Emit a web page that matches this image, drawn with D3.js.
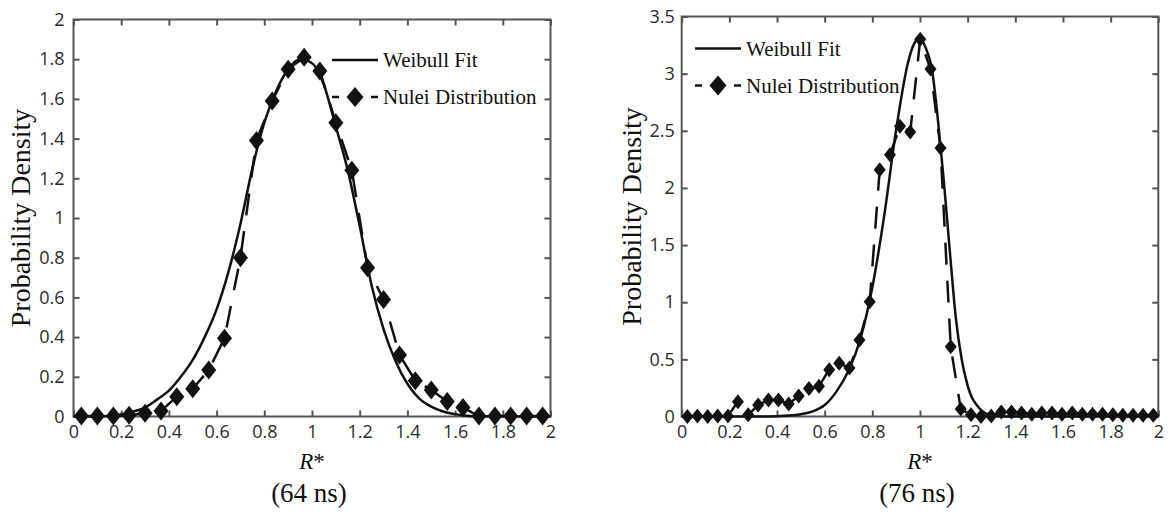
<!DOCTYPE html>
<html>
<head>
<meta charset="utf-8">
<script src="https://cdn.jsdelivr.net/npm/d3@7"></script>
<style>
  body { margin: 0; background: #fff; }
  .tick text { font-family: "Open Sans", sans-serif; font-size: 18px; fill: #2b2b2b; }
  .tick line { stroke: #555; stroke-width: 2; }
  .serif { font-family: "Liberation Serif", "Times New Roman", serif; fill: #111; }
</style>
</head>
<body>
<svg id="chart" width="1169" height="519"></svg>
<script>
// shared x ticks (R*)
const xTicks = [0, 0.2, 0.4, 0.6, 0.8, 1, 1.2, 1.4, 1.6, 1.8, 2];

// 64 ns panel
const yTicks64 = [0, 0.2, 0.4, 0.6, 0.8, 1, 1.2, 1.4, 1.6, 1.8, 2];
const nuc64X = [0.033, 0.1, 0.167, 0.233, 0.3, 0.367, 0.433, 0.5, 0.567, 0.633,
                0.7, 0.767, 0.833, 0.9, 0.967, 1.033, 1.1, 1.167, 1.233, 1.3,
                1.367, 1.433, 1.5, 1.567, 1.633, 1.7, 1.767, 1.833, 1.9, 1.967];
const nuc64Y = [0.003, 0.003, 0.003, 0.006, 0.016, 0.028, 0.10, 0.14, 0.234, 0.394,
                0.80, 1.39, 1.59, 1.75, 1.81, 1.74, 1.48, 1.24, 0.75, 0.59,
                0.31, 0.18, 0.134, 0.075, 0.045, 0.002, 0.002, 0.002, 0.002, 0.002];
const fit64X = [0, 0.1, 0.2, 0.25, 0.3, 0.35, 0.4, 0.45, 0.5, 0.55, 0.6, 0.65, 0.7, 0.75,
                0.8, 0.85, 0.9, 0.95, 1.0, 1.05, 1.1, 1.15, 1.2, 1.25, 1.3, 1.35, 1.4,
                1.45, 1.5, 1.55, 1.6, 1.65, 1.7, 1.8, 2.0];
const fit64Y = [0, 0, 0.01, 0.025, 0.045, 0.085, 0.13, 0.2, 0.285, 0.4, 0.54, 0.73, 0.97, 1.25,
                1.48, 1.64, 1.75, 1.80, 1.78, 1.67, 1.46, 1.24, 0.96, 0.66, 0.44, 0.28, 0.165,
                0.09, 0.05, 0.025, 0.012, 0.004, 0.001, 0, 0];

// 76 ns panel
const yTicks76 = [0, 0.5, 1, 1.5, 2, 2.5, 3, 3.5];
const nuc76X = [0.024, 0.066, 0.109, 0.151, 0.194, 0.236, 0.279, 0.321, 0.364, 0.406,
                0.449, 0.491, 0.534, 0.576, 0.619, 0.661, 0.704, 0.746, 0.789, 0.831,
                0.874, 0.916, 0.959, 1.001, 1.044, 1.086, 1.129, 1.171, 1.214, 1.256,
                1.299, 1.341, 1.384, 1.426, 1.469, 1.511, 1.554, 1.596, 1.639, 1.681,
                1.724, 1.766, 1.809, 1.851, 1.894, 1.936, 1.979];
const nuc76Y = [0, 0.005, 0, 0.005, 0.005, 0.13, 0.015, 0.10, 0.145, 0.145,
                0.11, 0.18, 0.245, 0.265, 0.41, 0.465, 0.425, 0.67, 1.005, 2.16,
                2.29, 2.54, 2.49, 3.30, 3.04, 2.35, 0.61, 0.065, 0.015, 0,
                0.005, 0.04, 0.04, 0.03, 0.02, 0.03, 0.03, 0.02, 0.03, 0.02,
                0.02, 0.02, 0.015, 0.01, 0.01, 0.01, 0.01];
const fit76X = [0, 0.3, 0.4, 0.45, 0.5, 0.55, 0.6, 0.65, 0.7, 0.75, 0.8, 0.85, 0.9, 0.95,
                0.975, 1.0, 1.025, 1.05, 1.075, 1.1, 1.125, 1.15, 1.175, 1.2, 1.25, 1.3, 1.35, 2.0];
const fit76Y = [0, 0, 0.003, 0.008, 0.02, 0.045, 0.1, 0.22, 0.4, 0.68, 1.13, 1.76, 2.51, 3.10,
                3.26, 3.31, 3.22, 3.04, 2.6, 2.06, 1.45, 0.87, 0.5, 0.27, 0.07, 0.01, 0, 0];

const legendLabels = ['Weibull Fit', 'Nulei Distribution'];

const svg = d3.select('#chart');
svg.append('rect').attr('width', 1169).attr('height', 519).attr('fill', '#fff');

const panels = [
  {left: 73.5, right: 550.5, top: 19.5, bottom: 416.5, yMax: 2, yTicks: yTicks64,
   nx: nuc64X, ny: nuc64Y, fx: fit64X, fy: fit64Y, caption: '(64 ns)',
   mw: 7.5, mh: 9.5, legX: 332, legY: 60, yLabX: 30, yPad: 9},
  {left: 681.7, right: 1158.3, top: 16.5, bottom: 416.5, yMax: 3.5, yTicks: yTicks76,
   nx: nuc76X, ny: nuc76Y, fx: fit76X, fy: fit76Y, caption: '(76 ns)',
   mw: 6, mh: 7.5, legX: 695, legY: 48.5, yLabX: 641, yPad: 7}
];

function diamond(w, h) {
  return 'M0,' + (-h) + 'L' + w + ',0L0,' + h + 'L' + (-w) + ',0Z';
}

panels.forEach(function(p) {
  const x = d3.scaleLinear().domain([0, 2]).range([p.left, p.right]);
  const y = d3.scaleLinear().domain([0, p.yMax]).range([p.bottom, p.top]);
  const g = svg.append('g');
  const fmt = d3.format('~g');

  // inward ticks on all four sides, box drawn separately
  g.append('g').attr('transform', 'translate(0,' + p.bottom + ')')
    .call(d3.axisBottom(x).tickValues(xTicks).tickFormat(fmt).tickSize(-6).tickPadding(9))
    .call(a => a.select('.domain').remove());
  g.append('g').attr('transform', 'translate(0,' + p.top + ')')
    .call(d3.axisTop(x).tickValues(xTicks).tickFormat('').tickSize(-6))
    .call(a => a.select('.domain').remove());
  g.append('g').attr('transform', 'translate(' + p.left + ',0)')
    .call(d3.axisLeft(y).tickValues(p.yTicks).tickFormat(fmt).tickSize(-6).tickPadding(p.yPad))
    .call(a => a.select('.domain').remove());
  g.append('g').attr('transform', 'translate(' + p.right + ',0)')
    .call(d3.axisRight(y).tickValues(p.yTicks).tickFormat('').tickSize(-6))
    .call(a => a.select('.domain').remove());
  g.selectAll('.tick text').attr('fill', '#2b2b2b');

  g.append('rect')
    .attr('x', p.left).attr('y', p.top)
    .attr('width', p.right - p.left).attr('height', p.bottom - p.top)
    .attr('fill', 'none').attr('stroke', '#555').attr('stroke-width', 2);

  // fitted curve
  const fit = p.fx.map((v, i) => [v, p.fy[i]]);
  g.append('path')
    .datum(fit)
    .attr('d', d3.line().x(d => x(d[0])).y(d => y(d[1])).curve(d3.curveMonotoneX))
    .attr('fill', 'none').attr('stroke', '#111').attr('stroke-width', 2.5);

  // measured distribution
  const nuc = p.nx.map((v, i) => [v, p.ny[i]]);
  g.append('path')
    .datum(nuc)
    .attr('d', d3.line().x(d => x(d[0])).y(d => y(d[1])))
    .attr('fill', 'none').attr('stroke', '#111').attr('stroke-width', 2.5)
    .attr('stroke-dasharray', '22,16');
  g.selectAll('.mark')
    .data(nuc)
    .enter().append('path')
    .attr('class', 'mark')
    .attr('transform', d => 'translate(' + x(d[0]) + ',' + y(d[1]) + ')')
    .attr('d', diamond(p.mw, p.mh))
    .attr('fill', '#111');

  // legend
  const lg = g.append('g').attr('transform', 'translate(' + p.legX + ',' + p.legY + ')');
  lg.append('line').attr('x1', 0).attr('x2', 46).attr('y1', 0).attr('y2', 0)
    .attr('stroke', '#111').attr('stroke-width', 2.5);
  lg.append('line').attr('x1', 0).attr('x2', 7).attr('y1', 37).attr('y2', 37)
    .attr('stroke', '#111').attr('stroke-width', 2.5);
  lg.append('line').attr('x1', 39).attr('x2', 46).attr('y1', 37).attr('y2', 37)
    .attr('stroke', '#111').attr('stroke-width', 2.5);
  lg.append('path').attr('transform', 'translate(23,37)')
    .attr('d', diamond(8.5, 10)).attr('fill', '#111');
  lg.selectAll('.lab')
    .data(legendLabels)
    .enter().append('text')
    .attr('class', 'serif')
    .attr('x', 51)
    .attr('y', (d, i) => i * 37 + 7)
    .attr('font-size', 21)
    .text(d => d);

  // axis titles
  const cx = (p.left + p.right) / 2;
  g.append('text').attr('class', 'serif')
    .attr('transform', 'translate(' + p.yLabX + ',' + ((p.top + p.bottom) / 2) + ') rotate(-90)')
    .attr('text-anchor', 'middle').attr('font-size', 28)
    .text('Probability Density');
  const rl = g.append('text').attr('class', 'serif')
    .attr('x', cx).attr('y', 469).attr('text-anchor', 'middle').attr('font-size', 23);
  rl.append('tspan').attr('font-style', 'italic').text('R');
  rl.append('tspan').text('*');
  g.append('text').attr('class', 'serif')
    .attr('x', cx - 3).attr('y', 502).attr('text-anchor', 'middle').attr('font-size', 27)
    .text(p.caption);
});
</script>
</body>
</html>
